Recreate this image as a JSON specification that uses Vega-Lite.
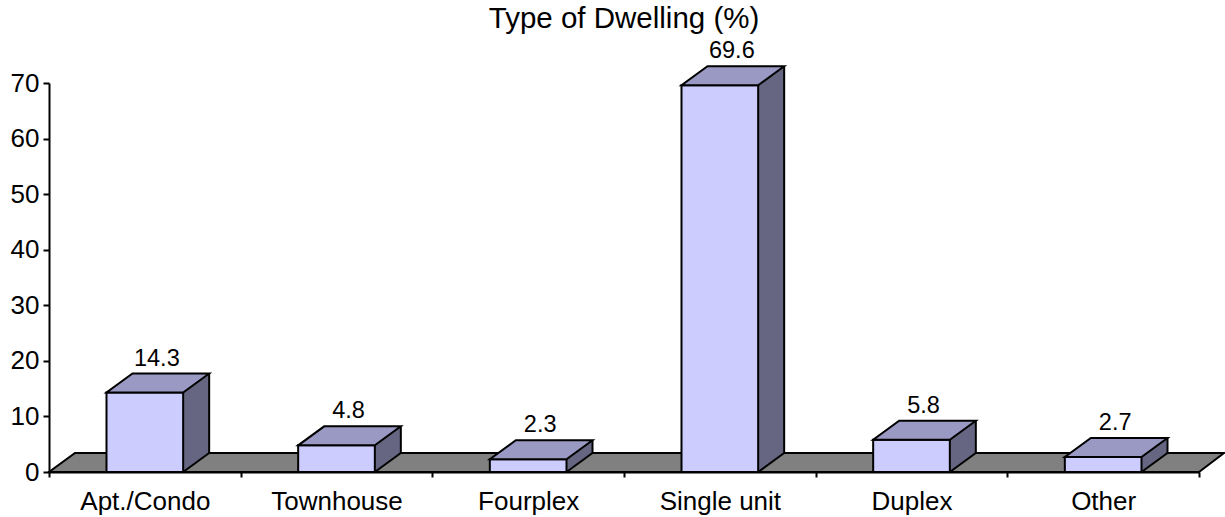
{
  "$schema": "https://vega.github.io/schema/vega-lite/v6.json",
  "autosize": {"type": "none"},
  "width": 1150,
  "height": 389,
  "padding": {"left": 49, "top": 83, "right": 26, "bottom": 45},
  "background": "white",
  "config": {
    "view": {"stroke": null},
    "font": "Liberation Sans",
    "axis": {"labelFont": "Liberation Sans", "labelColor": "black", "domainColor": "black", "tickColor": "black", "domainWidth": 2, "tickWidth": 2, "grid": false, "title": null}
  },
  "title": {"text": "Type of Dwelling (%)", "font": "Liberation Sans", "fontSize": 29.5, "fontWeight": "normal", "color": "black", "anchor": "middle", "frame": "group", "baseline": "alphabetic", "offset": 0, "dy": 18},
  "data": {"values": [
    {"type": "Apt./Condo", "pct": 14.3},
    {"type": "Townhouse", "pct": 4.8},
    {"type": "Fourplex", "pct": 2.3},
    {"type": "Single unit", "pct": 69.6},
    {"type": "Duplex", "pct": 5.8},
    {"type": "Other", "pct": 2.7}
  ]},
  "encoding": {
    "x": {"field": "type", "type": "nominal", "sort": null,
      "scale": {"paddingInner": 0, "paddingOuter": 0},
      "axis": {"labelAngle": 0, "tickBand": "extent", "tickSize": 5, "labelFontSize": 26, "labelPadding": 11}},
    "y": {"field": "pct", "type": "quantitative",
      "scale": {"domain": [0, 70], "nice": false, "zero": true},
      "axis": {"values": [0, 10, 20, 30, 40, 50, 60, 70], "tickSize": 6, "labelFontSize": 26, "labelPadding": 4}}
  },
  "layer": [
    {
      "data": {"values": [{"type": "Apt./Condo", "pct": 0}]},
      "mark": {"type": "point", "shape": "M-95.83,0L1054.17,0L1079.17,-19L-69.83,-19Z", "size": 4, "filled": true, "fill": "#808080", "stroke": "black", "strokeWidth": 2, "opacity": 1, "fillOpacity": 1, "strokeOpacity": 1}
    },
    {
      "mark": {"type": "bar", "width": 26, "xOffset": 51.33, "yOffset": -19, "y2Offset": -19, "fill": "#666682", "stroke": null, "strokeWidth": 0},
      "encoding": {"y2": {"datum": 0}}
    },
    {
      "mark": {"type": "point", "shape": "M38.33,0L38.33,-21L64.33,-21L64.33,-19Z", "size": 4, "filled": true, "fill": "#666682", "strokeWidth": 0, "opacity": 1, "fillOpacity": 1},
      "encoding": {"y": {"datum": 0}}
    },
    {
      "mark": {"type": "rule", "xOffset": 64.33, "yOffset": -19, "y2Offset": -19, "stroke": "black", "strokeWidth": 2},
      "encoding": {"y2": {"datum": 0}}
    },
    {
      "mark": {"type": "point", "shape": "M38.33,0L64.33,-19", "size": 4, "filled": false, "fill": null, "stroke": "black", "strokeWidth": 2, "opacity": 1, "strokeOpacity": 1},
      "encoding": {"y": {"datum": 0}}
    },
    {
      "mark": {"type": "bar", "width": {"band": 0.4}, "fill": "#CCCCFF", "stroke": "black", "strokeWidth": 2},
      "encoding": {"y2": {"datum": 0}}
    },
    {
      "mark": {"type": "point", "shape": "M-38.33,0L38.33,0L64.33,-19L-12.33,-19Z", "size": 4, "filled": true, "fill": "#9999C4", "stroke": "black", "strokeWidth": 2, "opacity": 1, "fillOpacity": 1, "strokeOpacity": 1}
    },
    {
      "mark": {"type": "text", "font": "Liberation Sans", "fontSize": 23.5, "color": "black", "baseline": "alphabetic", "align": "center", "dx": 12, "dy": -27},
      "encoding": {"text": {"field": "pct", "type": "quantitative", "format": ".1f"}}
    }
  ]
}
